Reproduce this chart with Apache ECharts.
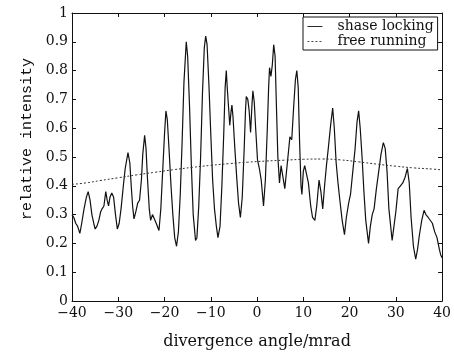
<!DOCTYPE html>
<html>
<head>
<meta charset="utf-8">
<script src="https://cdn.jsdelivr.net/npm/echarts@6/dist/echarts.min.js"></script>
<style>
html,body{margin:0;padding:0;background:#fff;}
#c{width:454px;height:355px;}
</style>
</head>
<body>
<div id="c"></div>
<script>
// Phase locking (solid) curve
const lockX = [-40.0,-39.6,-39.2,-38.8,-38.3,-37.9,-37.4,-36.9,-36.5,-36.1,-35.7,-35.3,-35.0,-34.6,-34.2,-33.8,-33.5,-33.1,-32.7,-32.4,-32.1,-31.8,-31.4,-31.0,-30.6,-30.2,-29.8,-29.4,-28.9,-28.5,-27.9,-27.5,-27.2,-26.9,-26.6,-26.2,-25.8,-25.4,-25.0,-24.7,-24.3,-24.0,-23.7,-23.3,-23.0,-22.6,-22.2,-21.8,-21.2,-20.8,-20.4,-20.0,-19.7,-19.4,-19.0,-18.6,-18.2,-17.8,-17.4,-17.0,-16.6,-16.2,-15.8,-15.3,-15.0,-14.6,-14.2,-13.8,-13.3,-13.0,-12.6,-12.2,-11.8,-11.4,-11.1,-10.8,-10.4,-10.0,-9.6,-9.2,-8.8,-8.45,-8.0,-7.6,-7.2,-6.9,-6.65,-6.4,-6.1,-5.9,-5.6,-5.43,-5.2,-4.8,-4.4,-4.0,-3.6,-3.2,-2.8,-2.5,-2.33,-2.0,-1.7,-1.4,-1.1,-0.9,-0.6,-0.3,0.1,0.5,0.9,1.4,1.8,2.2,2.5,2.7,3.0,3.3,3.6,3.9,4.2,4.5,4.85,5.2,5.6,6.0,6.4,6.8,7.1,7.5,7.9,8.3,8.6,8.9,9.2,9.5,9.7,10.0,10.3,10.7,11.1,11.6,12.0,12.5,12.9,13.4,13.8,14.2,14.6,15.0,15.4,15.9,16.35,16.7,17.1,17.5,17.9,18.4,18.9,19.3,19.8,20.2,20.7,21.2,21.6,21.96,22.3,22.7,23.1,23.5,24.1,24.5,24.9,25.3,25.8,26.3,26.8,27.3,27.7,28.1,28.5,29.2,29.6,30.0,30.5,31.0,31.5,32.0,32.5,32.9,33.3,33.8,34.3,34.7,35.1,35.6,36.1,36.5,37.0,37.4,37.9,38.4,38.9,39.4,39.7,40.0];
const lockY = [0.30,0.29,0.27,0.26,0.235,0.27,0.32,0.36,0.38,0.35,0.30,0.27,0.25,0.26,0.28,0.31,0.32,0.33,0.38,0.35,0.33,0.36,0.375,0.36,0.30,0.25,0.27,0.32,0.40,0.46,0.515,0.48,0.40,0.33,0.285,0.31,0.34,0.35,0.42,0.51,0.575,0.53,0.43,0.32,0.28,0.30,0.30,0.27,0.245,0.32,0.45,0.58,0.66,0.63,0.52,0.40,0.30,0.22,0.19,0.24,0.37,0.55,0.76,0.90,0.85,0.68,0.47,0.30,0.21,0.22,0.33,0.50,0.72,0.88,0.92,0.89,0.75,0.58,0.42,0.32,0.26,0.22,0.26,0.40,0.58,0.74,0.80,0.73,0.66,0.61,0.66,0.68,0.64,0.53,0.43,0.34,0.29,0.36,0.52,0.66,0.71,0.70,0.66,0.585,0.68,0.73,0.69,0.60,0.49,0.46,0.42,0.33,0.42,0.59,0.74,0.81,0.78,0.82,0.89,0.85,0.67,0.50,0.41,0.47,0.43,0.39,0.39,0.52,0.57,0.56,0.67,0.77,0.80,0.74,0.55,0.40,0.37,0.45,0.47,0.47,0.41,0.33,0.29,0.28,0.33,0.42,0.38,0.32,0.40,0.47,0.53,0.61,0.67,0.60,0.48,0.41,0.35,0.28,0.23,0.29,0.34,0.37,0.45,0.53,0.62,0.66,0.60,0.50,0.38,0.28,0.20,0.26,0.30,0.32,0.39,0.45,0.51,0.55,0.53,0.45,0.32,0.21,0.26,0.31,0.39,0.40,0.41,0.43,0.46,0.41,0.29,0.19,0.145,0.18,0.23,0.28,0.315,0.30,0.29,0.29,0.27,0.24,0.22,0.18,0.16,0.15];
// Free running (dashed) curve
const freeX = [-40,-37,-34,-30,-26,-22,-18,-14,-10,-6,-2,2,6,10,14,18,22,26,30,34,38,40];
const freeY = [0.405,0.41,0.418,0.428,0.438,0.447,0.456,0.464,0.471,0.477,0.482,0.486,0.489,0.492,0.493,0.49,0.483,0.475,0.468,0.462,0.458,0.455];
const xTicks = [-40,-30,-20,-10,0,10,20,30,40];
const yTicks = [0,0.1,0.2,0.3,0.4,0.5,0.6,0.7,0.8,0.9,1];
const seriesNames = ['shase locking','free running'];
const xTitle = 'divergence angle/mrad';
const yTitle = 'relative intensity';

const pair = (xs, ys) => xs.map((x, i) => [x, ys[i]]);
const axisCol = '#111';
const tickFont = {fontFamily:'DejaVu Serif', fontSize:14, color:'#111'};

const chart = echarts.init(document.getElementById('c'), null, {renderer:'canvas'});
chart.setOption({
  animation:false,
  backgroundColor:'#fff',
  grid:{left:72, right:11, top:13, bottom:52, containLabel:false},
  legend:{
    orient:'vertical', left:303, top:17,
    padding:[2,4,1,4],
    borderColor:'#111', borderWidth:1, backgroundColor:'#fff',
    itemWidth:15, itemHeight:15, itemGap:0,
    itemStyle:{color:'rgba(0,0,0,0)', borderColor:'rgba(0,0,0,0)', borderWidth:0, opacity:0},
    lineStyle:{width:0.9},
    textStyle:{fontFamily:'DejaVu Serif', fontSize:14, color:'#111', lineHeight:15, padding:[0,0,0,10]},
    data:seriesNames
  },
  xAxis:[{
    type:'value', min:-40, max:40, interval:10, position:'bottom',
    name:xTitle, nameLocation:'middle', nameGap:33,
    nameTextStyle:{fontFamily:'DejaVu Serif', fontSize:16, color:'#111'},
    axisLine:{onZero:false, lineStyle:{color:axisCol, width:1}},
    axisTick:{inside:true, length:4, lineStyle:{color:axisCol}},
    axisLabel:{...tickFont, margin:5, formatter:v => String(v).replace('-', '\u2212')},
    splitLine:{show:false}
  },{
    type:'value', min:-40, max:40, interval:10, position:'top',
    axisLine:{onZero:false, lineStyle:{color:axisCol, width:1}},
    axisTick:{inside:true, length:4, lineStyle:{color:axisCol}},
    axisLabel:{show:false}, splitLine:{show:false}
  }],
  yAxis:[{
    type:'value', min:0, max:1, interval:0.1, position:'left',
    name:yTitle, nameLocation:'middle', nameGap:37, nameRotate:90,
    nameTextStyle:{fontFamily:'Liberation Mono', fontSize:15, color:'#111', padding:[0,0,0,36]},
    axisLine:{onZero:false, lineStyle:{color:axisCol, width:1}},
    axisTick:{inside:true, length:4, lineStyle:{color:axisCol}},
    axisLabel:{...tickFont, margin:4, formatter:v => String(Math.round(v*10)/10)},
    splitLine:{show:false}
  },{
    type:'value', min:0, max:1, interval:0.1, position:'right',
    axisLine:{onZero:false, lineStyle:{color:axisCol, width:1}},
    axisTick:{inside:true, length:4, lineStyle:{color:axisCol}},
    axisLabel:{show:false}, splitLine:{show:false}
  }],
  series:[{
    name:seriesNames[0], type:'line', data:pair(lockX, lockY),
    showSymbol:false, symbol:'none',
    lineStyle:{color:'#111', width:1.2},
    itemStyle:{color:'#111'}
  },{
    name:seriesNames[1], type:'line', data:pair(freeX, freeY),
    showSymbol:false, symbol:'none', smooth:true,
    lineStyle:{color:'#333', width:1, type:[2,2]},
    itemStyle:{color:'#333'}
  }]
});
</script>
</body>
</html>
